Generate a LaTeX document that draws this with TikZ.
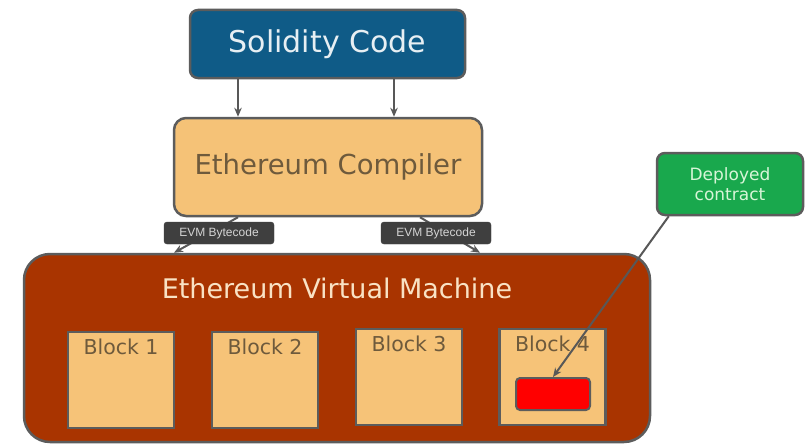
\documentclass[tikz,border=0pt]{standalone}
\usepackage{fontspec}
\setmainfont{DejaVu Sans}
\newfontfamily\labelfont{Liberation Sans}
\usetikzlibrary{arrows.meta,calc}
\definecolor{solblue}{HTML}{0F5B87}
\definecolor{comporange}{HTML}{F5C277}
\definecolor{comptext}{HTML}{6E5A3C}
\definecolor{evmred}{HTML}{A93400}
\definecolor{evmtext}{HTML}{F9E2C4}
\definecolor{blockfill}{HTML}{F6C378}
\definecolor{bordergray}{HTML}{5C5C5C}
\definecolor{greenbox}{HTML}{19A84D}
\definecolor{greentext}{HTML}{D8F5D8}
\definecolor{tagfill}{HTML}{3F3F3F}
\definecolor{tagtext}{HTML}{D4D4D4}
\definecolor{linegray}{HTML}{585858}
\tikzset{
  box/.style={draw=bordergray, line width=2.5pt, inner sep=0pt, align=center},
  blockbox/.style={draw=bordergray, fill=blockfill, line width=2.5pt, minimum width=106pt, minimum height=96pt, inner sep=0pt},
  blocklabel/.style={text=comptext, font=\fontsize{20.5}{24}\selectfont, anchor=north},
  tag/.style={draw=tagfill, fill=tagfill, rounded corners=3pt, minimum width=110pt, minimum height=22pt, inner sep=0pt, text=tagtext, font=\labelfont\fontsize{12}{13}\selectfont},
  conn/.style={draw=linegray, line width=2pt, -{Stealth[length=9pt,width=7.5pt]}}
}
\begin{document}
\begin{tikzpicture}[x=1pt,y=-1pt]
\useasboundingbox (0,0) rectangle (808,444);
\fill[white] (0,0) rectangle (808,444);
% main boxes
\node[box, fill=solblue, rounded corners=8pt, minimum width=275pt, minimum height=68pt, text=white!90!solblue, font=\fontsize{30}{34}\selectfont] (sol) at (327.5,44) {Solidity Code};
\node[box, fill=comporange, rounded corners=12pt, minimum width=308pt, minimum height=98pt, text=comptext, font=\fontsize{27.5}{32}\selectfont] (comp) at (328,167) {Ethereum Compiler};
\node[box, fill=evmred, rounded corners=26pt, minimum width=626pt, minimum height=188pt] (evm) at (337,348) {};
\node[text=evmtext, font=\fontsize{27}{30}\selectfont] (evmtitle) at (337,288) {Ethereum Virtual Machine};
% blocks
\node[blockbox] (b1) at (121,380) {};
\node[blockbox] (b2) at (265,380) {};
\node[blockbox] (b3) at (409,377) {};
\node[blockbox] (b4) at (552.5,377) {};
\node[blocklabel] (b1l) at ($(b1.north)+(0,5)$) {Block 1};
\node[blocklabel] (b2l) at ($(b2.north)+(0,5)$) {Block 2};
\node[blocklabel] (b3l) at ($(b3.north)+(0,5)$) {Block 3};
\node[blocklabel] (b4l) at ($(b4.north)+(0,5)$) {Block 4};
\node[draw=bordergray, line width=2pt, fill=red, rounded corners=4pt, minimum width=74pt, minimum height=32pt, inner sep=0pt] (red) at (553,394) {};
% deployed contract
\node[box, fill=greenbox, rounded corners=8pt, minimum width=146pt, minimum height=62pt, text=greentext, font=\fontsize{17}{20}\selectfont] (dep) at (730,184) {Deployed\\contract};
% connectors
\coordinate (ca) at (238,0);
\coordinate (cb) at (394,0);
\draw[conn] (sol.south -| ca) -- (comp.north -| ca);
\draw[conn] (sol.south -| cb) -- (comp.north -| cb);
\coordinate (la) at (238,0);
\coordinate (lb) at (174,0);
\coordinate (ra) at (420,0);
\coordinate (rb) at (480,0);
\draw[conn] (comp.south -| la) -- (evm.north -| lb);
\draw[conn] (comp.south -| ra) -- (evm.north -| rb);
\node[tag] (tagl) at (219,233) {EVM Bytecode};
\node[tag] (tagr) at (436,233) {EVM Bytecode};
\draw[conn] ($(dep.south west)+(13,0)$) -- (red.north);
\end{tikzpicture}
\end{document}
